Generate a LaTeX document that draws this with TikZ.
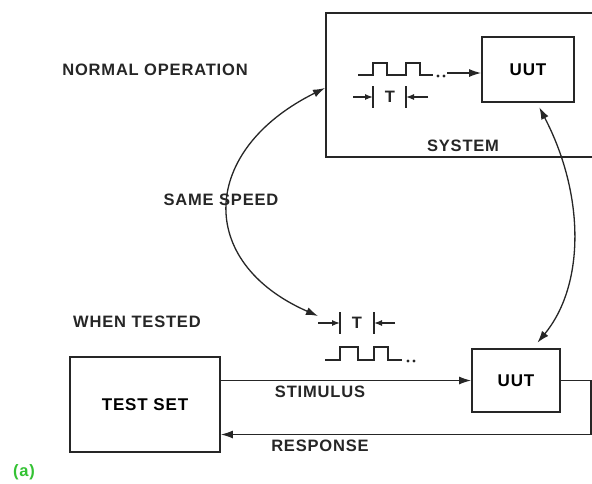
\documentclass[tikz,border=0pt]{standalone}
\usepackage{fontspec}
\setmainfont{Liberation Sans}[LetterSpace=5]
\usepackage{tikz}
\usetikzlibrary{arrows.meta}

\tikzset{
  blk/.style={draw=black!85,line width=1.8pt,inner sep=0pt,font=\bfseries\fontsize{17}{20}\selectfont},
  lbl/.style={inner sep=1pt,font=\bfseries\fontsize{16.5}{19}\selectfont,text=black!85},
  sig/.style={draw=black!85,line width=1.6pt},
  lnk/.style={draw=black!85,line width=1.3pt},
  tick/.style={lnk,->,>={Latex[length=8pt,width=6pt]}},
}

\begin{document}
\begin{tikzpicture}[x=1pt,y=-1pt,>={Latex[length=12pt,width=8pt]}]
\useasboundingbox[fill=white] (0,0) rectangle (592,483);
% system frame (open to the right)
\draw[lnk,line width=1.4pt] (592,13) -| (326,157) -- (592,157);
\node[lbl] (sys) at (463,146) {SYSTEM};
\node[blk,minimum width=92pt,minimum height=65pt] (uutA) at (528,69.5) {UUT};
\node[blk,minimum width=88pt,minimum height=63pt] (uutB) at (516,380.5) {UUT};
\node[blk,minimum width=150pt,minimum height=95pt] (tset) at (145,404.5) {TEST SET};
\node[lbl] (normal) at (155,70) {NORMAL OPERATION};
\node[lbl] (tested) at (137,322) {WHEN TESTED};
\node[lbl,fill=white] (speed) at (221,200) {SAME SPEED};
\node[lbl] (stim) at (320,392) {STIMULUS};
\node[lbl] (resp) at (320,446) {RESPONSE};
\node[lbl,text=green!70!black!80!white] (fig) at (24,472) {(a)};
% pulse trains
\begin{scope}[shift={(358,75)}]
  \draw[sig] (0,0) -- (15,0) -- (15,-12) -- (29,-12) -- (29,0) -- (48,0) -- (48,-12) -- (62,-12) -- (62,0) -- (75,0);
  \fill[black!85] (80,1) circle (1.7pt) (86,1) circle (1.7pt);
  \coordinate (dotsA) at (89,-2);
\end{scope}
\begin{scope}[shift={(325,360)}]
  \draw[sig] (0,0) -- (15,0) -- (15,-13) -- (33,-13) -- (33,0) -- (49,0) -- (49,-13) -- (63,-13) -- (63,0) -- (77,0);
  \fill[black!85] (83,1) circle (1.7pt) (89,1) circle (1.7pt);
\end{scope}
% period markers
\node[lbl] (tA) at (390,97) {T};
\draw[lnk] (373,86) -- (373,108) (406,86) -- (406,108);
\draw[tick] (353,97) -- (373,97);
\draw[tick] (428,97) -- (406,97);
\node[lbl] (tB) at (357,323) {T};
\draw[lnk] (340,312) -- (340,334) (374,312) -- (374,334);
\draw[tick] (318,323) -- (340,323);
\draw[tick] (395,323) -- (374,323);
% connectors
\draw[lnk,->] (dotsA) -- (dotsA -| uutA.west);
\draw[lnk,->] (tset.east |- uutB.west) -- (uutB.west);
\draw[lnk,->] (uutB.east) -- ++(30,0) |- ([yshift=-30pt]tset.east);
\coordinate (sysL) at (325,88);
\coordinate (pulseB) at (318,316);
\draw[lnk,<->] (sysL) .. controls (200,150) and (195,262) .. (pulseB);
\draw[lnk,<->,shorten <=5pt,shorten >=7pt] ([xshift=9pt]uutA.south) .. controls (585,195) and (585,285) .. ([xshift=17pt]uutB.north);
\end{tikzpicture}
\end{document}
